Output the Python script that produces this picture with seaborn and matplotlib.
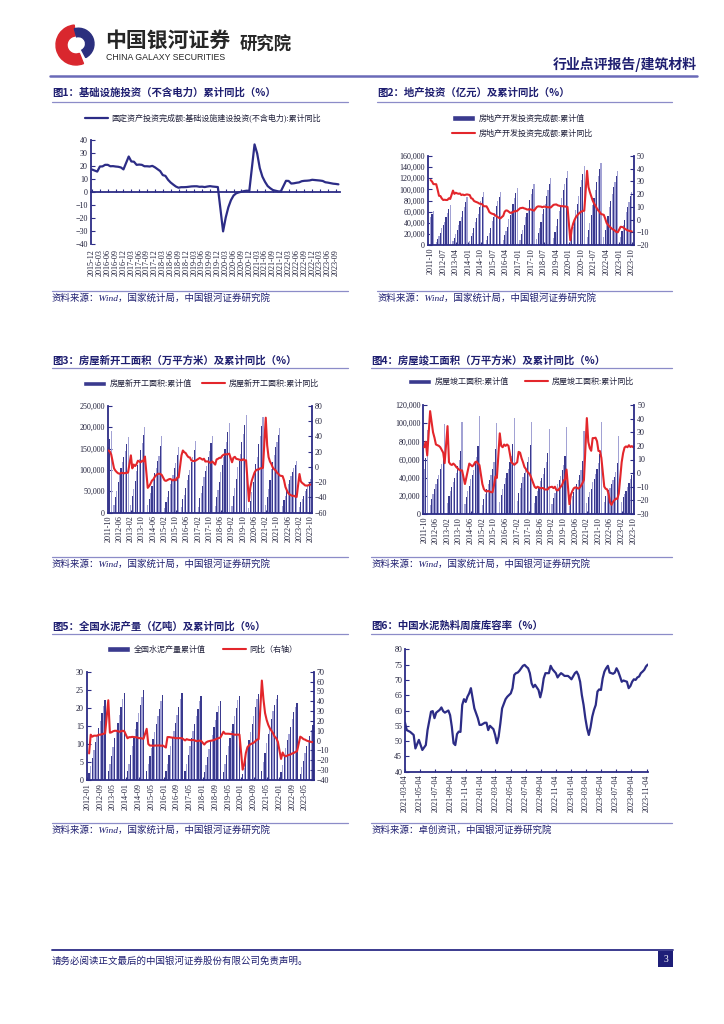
import numpy as np
import pandas as pd
import matplotlib
matplotlib.use("Agg")
import matplotlib.pyplot as plt
import seaborn as sns
import matplotlib.ticker as mticker
from matplotlib.patches import Wedge, Rectangle, Patch
from matplotlib.lines import Line2D

sns.set_theme(style="white")
SERIF = ["Liberation Serif", "Noto Sans CJK SC", "DejaVu Sans"]
CJK = ["Noto Sans CJK SC", "DejaVu Sans"]
plt.rcParams["font.family"] = SERIF
plt.rcParams["axes.unicode_minus"] = True

nan = np.nan

# ---------------- DATA ----------------
# 图1 基础设施投资(不含电力)累计同比 (%), 2015-12 .. 2023-10
infra_months = pd.period_range("2015-12", "2023-10", freq="M").strftime("%Y-%m").tolist()
infra_yoy = [17.3,
    nan, 15.7, 19.6, 19.7, 20.9, 20.9, 19.8, 19.9, 19.6, 19.4, 18.9, 17.4,
    nan, 27.3, 23.5, 23.3, 20.9, 21.1, 20.9, 19.8, 19.8, 19.6, 20.1, 19.0,
    nan, 16.1, 13.0, 12.4, 9.4, 7.3, 5.7, 4.2, 3.3, 3.7, 3.7, 3.8,
    nan, 4.3, 4.4, 4.4, 4.0, 4.1, 3.8, 4.2, 4.5, 4.2, 4.0, 3.8,
    nan, -30.3, -19.7, -11.8, -6.3, -2.7, -1.0, -0.3, 0.2, 0.7, 1.0, 0.9,
    nan, 36.6, 29.7, 18.4, 11.8, 7.8, 4.6, 2.9, 1.5, 1.0, 0.5, 0.4,
    nan, 8.6, 8.5, 6.5, 6.7, 7.1, 7.4, 8.3, 8.6, 8.7, 8.9, 9.4,
    nan, 9.0, 8.8, 8.5, 7.5, 7.2, 6.8, 6.4, 6.2, 5.9]

# 图2-4 months 2011-10 .. 2023-10
re_months = pd.period_range("2011-10", "2023-10", freq="M").strftime("%Y-%m").tolist()

# 图2 房地产开发投资完成额 累计值(亿元) / 累计同比(%)
re_inv = [49600, 55300, 61700,
    nan, 5400, 10900, 15900, 22000, 30600, 36000, 41200, 51000, 57600, 64000, 71800,
    nan, 6800, 13400, 19300, 26200, 36800, 43200, 50500, 61100, 68400, 76900, 86000,
    nan, 8000, 15300, 21700, 30000, 42000, 49000, 56100, 68800, 78800, 85800, 95000,
    nan, 8200, 16000, 22200, 30600, 43900, 50500, 57500, 70300, 78800, 86800, 96000,
    nan, 8500, 17700, 24300, 32800, 46300, 53100, 60300, 74600, 84400, 93000, 102600,
    nan, 9500, 19300, 27700, 36800, 50600, 58000, 66800, 81000, 92000, 100400, 109800,
    nan, 10400, 21300, 30600, 40600, 55500, 63900, 73300, 88900, 99500, 110100, 120300,
    nan, 12100, 23800, 33600, 46100, 61600, 70700, 84600, 98000, 109600, 121300, 132200,
    nan, 10100, 22000, 33100, 45900, 62800, 74000, 88500, 103500, 116600, 128500, 141400,
    nan, 13900, 27600, 40200, 54300, 72200, 84900, 98500, 112400, 124900, 136100, 147600,
    nan, 14500, 27800, 39200, 52100, 68300, 79500, 90800, 103600, 113900, 123900, 132900,
    nan, 13700, 26000, 35500, 45700, 58600, 67700, 76900, 87300, 95900]
re_yoy = [31.1, 29.9, 27.9,
    nan, 27.8, 23.5, 18.7, 18.5, 16.6, 15.4, 15.6, 15.4, 15.4, 16.7, 16.2,
    nan, 22.8, 20.2, 21.1, 20.6, 20.3, 20.5, 19.3, 19.7, 19.2, 19.5, 19.8,
    nan, 19.3, 16.8, 16.4, 14.7, 14.1, 13.7, 13.2, 12.5, 12.4, 11.9, 10.5,
    nan, 10.4, 8.5, 6.0, 5.1, 4.6, 4.3, 3.5, 2.6, 2.0, 1.3, 1.0,
    nan, 3.0, 6.2, 7.2, 7.0, 6.1, 5.3, 5.4, 5.8, 6.6, 6.5, 6.9,
    nan, 8.9, 9.1, 9.3, 8.8, 8.5, 7.9, 7.9, 8.1, 7.8, 7.5, 7.0,
    nan, 9.9, 10.4, 10.3, 10.2, 9.7, 10.2, 10.1, 9.9, 9.7, 9.7, 9.5,
    nan, 11.6, 11.8, 11.9, 11.2, 10.9, 10.6, 10.5, 10.5, 10.3, 10.2, 9.9,
    nan, -16.3, -7.7, -3.3, -0.3, 1.9, 3.4, 4.6, 5.6, 6.3, 6.8, 7.0,
    nan, 38.3, 25.6, 21.6, 18.3, 15.0, 12.7, 10.9, 8.8, 7.2, 6.0, 4.4,
    nan, 3.7, 0.7, -2.7, -4.0, -5.4, -6.4, -7.4, -8.0, -8.8, -9.8, -10.0,
    nan, -5.7, -5.8, -6.2, -7.2, -7.9, -8.5, -8.8, -9.1, -9.3]

# 图3 房屋新开工面积 累计值(万平方米) / 累计同比(%)
start_area = [154000, 172000, 190100,
    nan, 17600, 37000, 51000, 71000, 92300, 105000, 119000, 131300, 145000, 160000, 177300,
    nan, 19000, 38000, 55000, 74000, 98000, 111000, 125000, 146000, 162000, 181000, 201200,
    nan, 17200, 33000, 46000, 62000, 82000, 93000, 104000, 120000, 133000, 155000, 179600,
    nan, 11400, 26000, 36000, 51000, 67000, 78000, 89000, 104000, 117000, 134000, 154500,
    nan, 13800, 31000, 42000, 58000, 76000, 87000, 99000, 118000, 131000, 147000, 166900,
    nan, 14200, 35000, 47000, 63000, 83000, 97000, 110000, 129000, 143000, 162000, 178700,
    nan, 15000, 37000, 52000, 71000, 95000, 112000, 131000, 150000, 166000, 188000, 209300,
    nan, 16000, 40000, 57000, 78000, 106000, 120000, 136000, 165000, 183000, 206000, 227200,
    nan, 10400, 28000, 48000, 71000, 97000, 114000, 131000, 161000, 180000, 202000, 224400,
    nan, 17000, 37000, 56000, 77000, 102000, 118000, 135000, 153000, 166000, 182000, 198900,
    nan, 15000, 29000, 40000, 52000, 66000, 76000, 85000, 94000, 104000, 112000, 120600,
    nan, 13500, 24000, 31000, 40000, 50000, 56000, 64000, 72000, 79000]
start_yoy = [21.5, 20.0, 16.2,
    nan, -2.0, -5.0, -7.0, -8.5, -9.0, -8.0, -8.0, -8.5, -8.0, -8.0, -7.3,
    nan, 15.0, -2.0, 3.0, 1.0, 3.5, 8.0, 7.0, 6.0, 8.0, 7.0, 13.5,
    nan, -27.5, -25.2, -22.0, -18.0, -16.4, -13.0, -11.0, -9.3, -9.0, -9.3, -10.7,
    nan, -17.7, -18.4, -17.4, -16.3, -15.8, -16.8, -17.8, -16.3, -17.6, -14.0, -14.0,
    nan, 15.0, 21.4, 19.2, 18.0, 14.9, 12.6, 12.3, 8.5, 7.7, 7.6, 8.1,
    nan, 10.4, 11.6, 10.6, 9.4, 10.6, 7.0, 7.1, 7.0, 5.6, 5.5, 7.0,
    nan, 2.9, 9.7, 10.5, 11.8, 11.8, 14.4, 15.9, 16.4, 16.3, 16.8, 17.2,
    nan, 6.0, 11.9, 13.1, 10.5, 10.1, 9.5, 8.9, 8.6, 10.0, 8.6, 8.5,
    nan, -44.9, -27.2, -18.4, -12.8, -7.6, -4.5, -3.6, -3.4, -1.9, -2.0, -1.2,
    nan, 64.3, 28.2, 12.8, 6.9, 3.8, -0.9, -3.2, -4.5, -7.7, -9.1, -11.4,
    nan, -12.2, -17.5, -26.3, -30.6, -34.4, -36.1, -37.2, -38.0, -37.8, -38.9, -39.4,
    nan, -9.4, -19.2, -21.2, -22.6, -24.3, -24.5, -24.4, -23.4, -23.2]

# 图4 房屋竣工面积 累计值(万平方米) / 累计同比(%)
finish_area = [50000, 62000, 92600,
    nan, 10000, 17000, 22000, 27000, 33000, 38000, 43000, 49000, 55000, 64000, 99400,
    nan, 12000, 20000, 25000, 30000, 35000, 40000, 45000, 53000, 59000, 69000, 101400,
    nan, 11000, 19000, 25000, 31000, 38000, 43000, 48000, 56000, 63000, 75000, 107500,
    nan, 10000, 17000, 22000, 27000, 33000, 37000, 43000, 50000, 57000, 72000, 100000,
    nan, 13000, 21000, 27000, 33000, 40000, 45000, 50000, 57000, 64000, 77000, 106100,
    nan, 14000, 23000, 29000, 34000, 41000, 45000, 50000, 57000, 63000, 76000, 101500,
    nan, 12500, 20000, 25000, 30000, 36000, 40000, 44000, 51000, 57000, 67000, 93600,
    nan, 11000, 18000, 23000, 28000, 33000, 37000, 42000, 48000, 54000, 64000, 95900,
    nan, 8500, 16000, 20000, 24000, 29000, 33000, 37000, 43000, 48000, 58000, 91200,
    nan, 12000, 19000, 24000, 28000, 35000, 39000, 44000, 50000, 56000, 66000, 101400,
    nan, 13000, 20000, 23000, 26000, 29000, 33000, 37000, 41000, 46000, 56000, 86200,
    nan, 13000, 19000, 22000, 25000, 30000, 34000, 38000, 43000, 48000]
finish_yoy = [19.0, 23.0, 13.0,
    nan, 45.5, 38.0, 30.0, 26.0, 21.0, 20.5, 20.0, 19.0, 17.0, 15.0, 7.3,
    nan, 34.5, 8.0, 6.5, 6.0, 7.0, 6.0, 4.5, 3.5, 2.5, 2.0, 2.0,
    nan, -8.0, -3.0, 2.0, 7.0, 6.0, 5.0, 6.0, 8.0, 8.5, 7.0, 5.9,
    nan, -8.0, -11.6, -13.0, -13.5, -13.0, -13.5, -14.0, -14.0, -9.0, -2.5, -3.5,
    nan, 29.2, 20.0, 19.0, 21.0, 20.0, 21.0, 20.0, 14.0, 8.0, 7.0, 6.1,
    nan, 8.0, 15.6, 15.0, 11.0, 8.0, 4.5, 3.0, 1.0, 0.0, -1.5, -4.4,
    nan, -10.0, -11.0, -10.0, -10.5, -11.0, -11.0, -11.0, -12.0, -12.0, -12.0, -10.5,
    nan, -10.0, -11.0, -10.0, -12.4, -12.7, -11.3, -10.0, -8.6, -5.5, -4.5, 2.6,
    nan, -22.9, -15.8, -13.2, -11.1, -10.5, -10.6, -11.4, -10.8, -9.2, -7.3, -4.9,
    nan, 40.4, 22.9, 18.4, 16.4, 25.7, 25.7, 26.0, 23.4, 16.3, 16.2, 11.2,
    nan, -9.9, -11.5, -11.9, -15.3, -21.5, -23.3, -21.1, -19.9, -18.7, -19.0, -15.0,
    nan, 8.0, 14.7, 18.8, 19.6, 19.0, 20.5, 19.2, 19.8, 19.0]

# 图5 全国水泥产量 累计值(亿吨) / 同比(%), 2012-01 .. 2023-10
cement_months = pd.period_range("2012-01", "2023-10", freq="M").strftime("%Y-%m").tolist()
cement_cum = [
    nan, 1.9, 4.0, 6.2, 8.4, 10.6, 12.4, 14.4, 16.4, 18.6, 20.6, 22.1,
    nan, 2.5, 4.3, 6.7, 9.2, 11.6, 13.5, 15.7, 17.9, 20.2, 22.4, 24.1,
    nan, 2.6, 4.5, 7.0, 9.5, 12.0, 14.0, 16.2, 18.5, 20.7, 23.0, 24.8,
    nan, 2.6, 4.3, 6.6, 9.0, 11.4, 13.3, 15.4, 17.6, 19.7, 21.8, 23.5,
    nan, 2.4, 4.5, 6.9, 9.3, 11.7, 13.7, 15.8, 18.0, 20.2, 22.4, 24.0,
    nan, 2.4, 4.5, 6.9, 9.3, 11.7, 13.6, 15.6, 17.7, 19.8, 21.8, 23.2,
    nan, 2.2, 4.1, 6.3, 8.6, 10.8, 12.6, 14.6, 16.7, 18.7, 20.6, 21.8,
    nan, 2.3, 4.5, 6.9, 9.3, 11.6, 13.5, 15.6, 17.8, 20.0, 22.1, 23.3,
    nan, 1.6, 3.4, 5.9, 8.7, 11.2, 13.2, 15.4, 17.8, 20.2, 22.4, 23.8,
    nan, 2.6, 5.0, 7.6, 10.2, 12.7, 14.6, 16.8, 19.0, 20.9, 22.5, 23.6,
    nan, 2.1, 4.1, 6.3, 8.8, 11.0, 12.7, 14.6, 16.8, 18.8, 20.2, 21.2,
    nan, 1.7, 3.5, 5.4, 7.4, 9.3, 10.8, 12.3, 13.9, 15.3]
cement_yoy = [
    nan, -13.0, 6.0, 4.0, 5.0, 5.0, 5.0, 6.0, 6.0, 6.5, 7.0, 7.4,
    nan, 41.0, 8.0, 8.5, 9.5, 10.0, 10.0, 9.5, 9.0, 9.5, 10.0, 9.6,
    nan, 2.4, 3.5, 3.5, 3.8, 3.6, 3.3, 3.3, 2.5, 2.6, 2.2, 1.8,
    nan, 12.0, -3.4, -5.0, -5.0, -5.3, -5.0, -5.0, -5.0, -4.8, -5.3, -4.9,
    nan, -7.0, 3.6, 3.6, 3.3, 3.0, 3.0, 2.5, 2.5, 2.4, 2.6, 2.5,
    nan, 0.2, 1.5, 0.9, 0.7, 0.4, 0.7, 0.3, -0.5, -0.2, -0.1, -0.2,
    nan, -4.0, -2.0, -1.0, -0.5, -0.2, 0.0, 0.5, 1.3, 2.0, 2.5, 3.0,
    nan, 9.0, 7.0, 7.0, 7.0, 6.8, 6.5, 6.5, 6.0, 6.0, 6.0, 6.1,
    nan, -29.5, -23.9, -12.6, -6.7, -4.8, -3.6, -2.8, -2.0, -0.5, 1.0, 1.6,
    nan, 61.0, 42.0, 28.0, 21.0, 16.0, 12.5, 10.0, 7.6, 4.0, 2.5, -1.2,
    nan, -18.6, -12.1, -15.4, -16.0, -15.0, -14.5, -14.0, -13.0, -12.5, -11.5, -10.8,
    nan, 4.0, 3.0, 1.5, 1.0, 0.0, -0.5, -1.0, -1.5, -1.5]

# 图6 中国水泥熟料周度库容率(%), weeks after 2021-03-04
clinker_week = [0, 1, 3, 5, 6, 8, 10, 12, 13, 15, 16, 17, 18, 20, 21, 22, 23, 25, 26, 27,
    28, 29, 30, 31, 32, 33, 34, 35, 36, 37, 38, 39, 40, 42, 43, 44, 46, 47, 48, 49,
    51, 52, 53, 54, 55, 56, 58, 59, 61, 62, 63, 64, 65, 66, 68, 69, 70, 71, 72, 73,
    74, 75, 77, 78, 79, 80, 81, 83, 84, 85, 87, 88, 89, 90, 91, 92, 94, 95, 96, 98,
    99, 100, 101, 102, 103, 104, 105, 106, 107, 108, 109, 110, 111, 112, 113, 114, 115, 116, 117, 118,
    120, 121, 122, 123, 124, 125, 126, 128, 129, 130, 131, 132, 133, 134, 135, 136, 137, 138, 139, 140]
clinker_rate = [56.0, 53.6, 53.0, 52.0, 47.6, 50.4, 47.1, 48.7, 53.6, 59.6, 59.8, 57.5, 59.3, 60.2, 61.0, 59.8, 59.3, 60.0, 58.5, 54.7,
    49.3, 48.7, 52.3, 53.1, 53.0, 61.8, 63.7, 62.8, 64.5, 65.6, 67.3, 64.0, 60.7, 57.5, 55.3, 55.3, 56.0, 56.0, 53.6, 55.0,
    53.9, 52.0, 49.3, 51.5, 55.8, 60.7, 63.7, 64.5, 65.6, 67.3, 71.6, 72.2, 72.4, 73.0, 74.6, 74.9, 74.3, 73.8, 72.2, 68.9,
    67.6, 68.4, 66.7, 64.3, 66.7, 70.5, 72.2, 72.2, 74.6, 73.5, 72.2, 70.8, 71.6, 72.2, 71.8, 71.3, 71.3, 70.8, 70.2, 72.2,
    72.7, 71.6, 69.4, 65.0, 61.8, 57.5, 54.2, 52.0, 54.5, 58.0, 60.2, 61.8, 66.2, 66.9, 66.7, 70.5, 72.7, 73.8, 74.6, 72.4,
    72.0, 72.4, 73.8, 72.7, 71.1, 69.4, 69.8, 69.4, 67.3, 68.0, 69.4, 70.2, 70.0, 70.8, 71.1, 72.2, 72.7, 73.3, 74.4, 75.0]
clinker_ticks = pd.date_range("2021-03-04", "2023-11-04", freq=pd.DateOffset(months=2))

# ---------------- STYLE ----------------
W, H = 724, 1024
NAVY = "#2c2c86"
TITLE = "#1e1e70"
TXT = "#20203a"
RED = "#e3262b"
BAR_DARK = "#3a3a8e"
BAR_LIGHT = "#a2a2d4"
LINE_LAV = "#8c8cc8"

fig = plt.figure(figsize=(W / 100, H / 100), dpi=100)
fig.patch.set_facecolor("white")


def axes_px(l, t, r, b):
    return fig.add_axes([l / W, 1 - b / H, (r - l) / W, (b - t) / H])


def ftext(x, y, s, **kw):
    fig.text(x / W, 1 - y / H, s, **kw)


def fline(x0, x1, y, color, lw):
    fig.add_artist(Line2D([x0 / W, x1 / W], [1 - y / H, 1 - y / H], color=color, lw=lw,
                          transform=fig.transFigure))


def style_y(ax, side):
    ax.tick_params(axis="y", which="both", direction="in", length=3, width=0.8, color=NAVY,
                   labelcolor=TXT, labelsize=5.8, pad=2,
                   left=(side == "left"), right=(side == "right"),
                   labelleft=(side == "left"), labelright=(side == "right"))


def style_x(ax, labelsize=5.9, pad=2):
    ax.tick_params(axis="x", which="both", direction="in", length=2.5, width=0.8, color=NAVY,
                   labelcolor=TXT, labelsize=labelsize, pad=pad, bottom=True,
                   labelrotation=90)


def legend_at(ax, handles, labels, x, y, ncol=1, colsp=1.2, labsp=0.9):
    ax.legend(handles, labels, loc="center left", bbox_to_anchor=(x / W, 1 - y / H),
              bbox_transform=fig.transFigure, ncol=ncol, frameon=False, fontsize=5.8,
              handlelength=2.9, handletextpad=0.4, borderpad=0, borderaxespad=0,
              columnspacing=colsp, labelspacing=labsp, labelcolor=TXT)


def dual(box, months, bars, yoy, lmax, lstep, rmin, rmax, rstep, step, xlim, comma=True):
    ax = axes_px(*box)
    n = len(months)
    df = pd.DataFrame({"month": months, "value": bars})
    pal = {m: (BAR_DARK if i % 2 else BAR_LIGHT) for i, m in enumerate(months)}
    sns.barplot(data=df, x="month", y="value", hue="month", palette=pal, order=months,
                hue_order=months, dodge=False, legend=False, width=0.8, saturation=1,
                errorbar=None, linewidth=0, ax=ax)
    ax2 = ax.twinx()
    dl = pd.DataFrame({"pos": np.arange(n), "yoy": yoy}).dropna()
    sns.lineplot(data=dl, x="pos", y="yoy", color=RED, lw=1.5, ax=ax2)
    ax.set_ylim(0, lmax)
    ax.set_yticks(np.arange(0, lmax + lstep / 2, lstep))
    if comma:
        ax.yaxis.set_major_formatter(mticker.StrMethodFormatter("{x:,.0f}"))
    else:
        ax.yaxis.set_major_formatter(mticker.StrMethodFormatter("{x:.0f}"))
    ax2.set_ylim(rmin, rmax)
    ax2.set_yticks(np.arange(rmin, rmax + rstep / 2, rstep))
    ax2.yaxis.set_major_formatter(mticker.StrMethodFormatter("{x:.0f}"))
    ticks = list(range(0, n, step))
    ax.set_xticks(ticks)
    ax.set_xticklabels([months[i] for i in ticks], rotation=90)
    ax.set_xlim(*xlim)
    for a in (ax, ax2):
        a.set_xlabel("")
        a.set_ylabel("")
        a.set_facecolor("none")
        for s in a.spines.values():
            s.set_visible(False)
    ax.spines["left"].set_visible(True)
    ax.spines["bottom"].set_visible(True)
    ax2.spines["right"].set_visible(True)
    for s in (ax.spines["left"], ax.spines["bottom"], ax2.spines["right"]):
        s.set_color(NAVY)
        s.set_linewidth(1.3)
    style_y(ax, "left")
    style_y(ax2, "right")
    style_x(ax)
    return ax, ax2


# ---------------- HEADER ----------------
lg = axes_px(52, 22, 100, 68)
lg.set_xlim(-1.15, 1.15)
lg.set_ylim(-1.15, 1.15)
lg.set_aspect("equal")
lg.axis("off")
lg.add_patch(Wedge((0, 0), 1.0, 95, 292, width=0.55, color="#d9272e"))
lg.add_patch(Wedge((0.12, 0.06), 0.78, -62, 105, width=0.42, color="#2b2f7e"))

ftext(105, 40, "中国银河证券", family=CJK, fontsize=15, fontweight="bold", color="#262626",
      va="center", ha="left")
ftext(106, 58, "CHINA GALAXY SECURITIES", family=["Liberation Sans", "DejaVu Sans"], fontsize=6.3,
      color="#262626", va="center", ha="left")
ftext(240, 45, "研究院", family=CJK, fontsize=12.5, fontweight="bold", color="#262626",
      va="center", ha="left")
ftext(697, 64, "行业点评报告/建筑材料", family=CJK, fontsize=10, fontweight="bold", color=TITLE,
      va="center", ha="right")
fline(50, 697, 76, "#6a6ab8", 1.8)

# ---------------- SECTION FRAMES ----------------
sections = [
    (52, 348, 93, 101.5, 291, 298, "图1：基础设施投资（不含电力）累计同比（%）", "资料来源：Wind，国家统计局，中国银河证券研究院"),
    (377, 672, 93, 101.5, 291, 298, "图2：地产投资（亿元）及累计同比（%）", "资料来源：Wind，国家统计局，中国银河证券研究院"),
    (52, 348, 360, 367.5, 557, 564, "图3：房屋新开工面积（万平方米）及累计同比（%）", "资料来源：Wind，国家统计局，中国银河证券研究院"),
    (371, 672, 360, 367.5, 557, 564, "图4：房屋竣工面积（万平方米）及累计同比（%）", "资料来源：Wind，国家统计局，中国银河证券研究院"),
    (52, 348, 626, 634, 822.5, 830, "图5：全国水泥产量（亿吨）及累计同比（%）", "资料来源：Wind，国家统计局，中国银河证券研究院"),
    (371, 672, 626, 634, 822.5, 830, "图6：中国水泥熟料周度库容率（%）", "资料来源：卓创资讯，中国银河证券研究院"),
]
for x0, x1, ty, uy, sy, sty, title, src in sections:
    ftext(x0, ty, title, family=CJK, fontsize=7.5, fontweight="bold", color=TITLE, va="center")
    fline(x0, x1, uy, LINE_LAV, 0.9)
    fline(x0, x1, sy, LINE_LAV, 0.9)
    ftext(x0, sty, src, family=SERIF, fontsize=6.8, style="italic", color=TITLE, va="center")

# ---------------- 图1 ----------------
ax1 = axes_px(90.7, 140, 340, 244)
d1 = pd.DataFrame({"pos": np.arange(len(infra_months)), "yoy": infra_yoy}).dropna()
sns.lineplot(data=d1, x="pos", y="yoy", color=NAVY, lw=1.6, ax=ax1)
for s in ("top", "right"):
    ax1.spines[s].set_visible(False)
ax1.spines["bottom"].set_position(("data", 0))
for s in ("left", "bottom"):
    ax1.spines[s].set_color(NAVY)
    ax1.spines[s].set_linewidth(1.3)
ax1.set_ylim(-40, 40)
ax1.set_yticks(np.arange(-40, 41, 10))
ax1.set_xlim(-0.5, 94.6)
t1 = list(range(0, len(infra_months), 3))
ax1.set_xticks(t1)
ax1.set_xticklabels([infra_months[i] for i in t1], rotation=90)
ax1.set_xlabel("")
ax1.set_ylabel("")
style_y(ax1, "left")
style_x(ax1, pad=41)
legend_at(ax1, [Line2D([], [], color=NAVY, lw=1.6)],
          ["固定资产投资完成额:基础设施建设投资(不含电力):累计同比"], 85, 118)

# ---------------- 图2 ----------------
a2, b2 = dual((427.7, 156, 634, 245), re_months, re_inv, re_yoy, 160000, 20000, -20, 50, 10, 9, (-2.1, 145.6))
legend_at(b2, [Patch(facecolor=BAR_DARK), Line2D([], [], color=RED, lw=1.5)],
          ["房地产开发投资完成额:累计值", "房地产开发投资完成额:累计同比"], 452, 126.5, labsp=0.85)

# ---------------- 图3 ----------------
a3, b3 = dual((107.7, 405.7, 311.7, 512.7), re_months, start_area, start_yoy, 250000, 50000, -60, 80, 20, 8, (-0.5, 144.7))
legend_at(b3, [Patch(facecolor=BAR_DARK), Line2D([], [], color=RED, lw=1.5)],
          ["房屋新开工面积:累计值", "房屋新开工面积:累计同比"], 83, 384, ncol=2, colsp=1.25)

# ---------------- 图4 ----------------
a4, b4 = dual((423.3, 405, 634.3, 514), re_months, finish_area, finish_yoy, 120000, 20000, -30, 50, 10, 8, (-0.7, 144.7))
legend_at(b4, [Patch(facecolor=BAR_DARK), Line2D([], [], color=RED, lw=1.5)],
          ["房屋竣工面积:累计值", "房屋竣工面积:累计同比"], 408, 382, ncol=2, colsp=2.0)

# ---------------- 图5 ----------------
a5, b5 = dual((86.7, 671.7, 314, 780), cement_months, cement_cum, cement_yoy, 30, 5, -40, 70, 10, 8, (-0.5, 141.6), comma=False)
legend_at(b5, [Patch(facecolor=BAR_DARK), Line2D([], [], color=RED, lw=1.5)],
          ["全国水泥产量累计值", "同比（右轴）"], 107, 650, ncol=2, colsp=2.1)

# ---------------- 图6 ----------------
ax6 = axes_px(405, 649.3, 648, 771.7)
d6 = pd.DataFrame({"date": pd.Timestamp("2021-03-04") + pd.to_timedelta(np.array(clinker_week) * 7, unit="D"),
                   "rate": clinker_rate})
sns.lineplot(data=d6, x="date", y="rate", color=NAVY, lw=1.6, ax=ax6)
ax6.set_ylim(40, 80)
ax6.set_yticks(np.arange(40, 81, 5))
ax6.set_xlim(pd.Timestamp("2021-03-04"), pd.Timestamp("2023-11-10"))
ax6.set_xticks(clinker_ticks)
ax6.set_xticklabels(clinker_ticks.strftime("%Y-%m-%d"), rotation=90)
ax6.set_xlabel("")
ax6.set_ylabel("")
for s in ("top", "right"):
    ax6.spines[s].set_visible(False)
for s in ("left", "bottom"):
    ax6.spines[s].set_color(NAVY)
    ax6.spines[s].set_linewidth(1.3)
style_y(ax6, "left")
style_x(ax6)

# ---------------- FOOTER ----------------
fline(52, 673, 950, NAVY, 1.3)
ftext(52, 961, "请务必阅读正文最后的中国银河证券股份有限公司免责声明。", family=CJK, fontsize=6.8,
      color=TITLE, va="center")
fig.add_artist(Rectangle((658 / W, 1 - 967 / H), 15 / W, 16 / H, transform=fig.transFigure,
                         facecolor="#1e1e78", edgecolor="none"))
ftext(665.5, 959, "3", family=SERIF, fontsize=7, color="white", ha="center", va="center")

fig.savefig("out.png", dpi=100, facecolor="white")
